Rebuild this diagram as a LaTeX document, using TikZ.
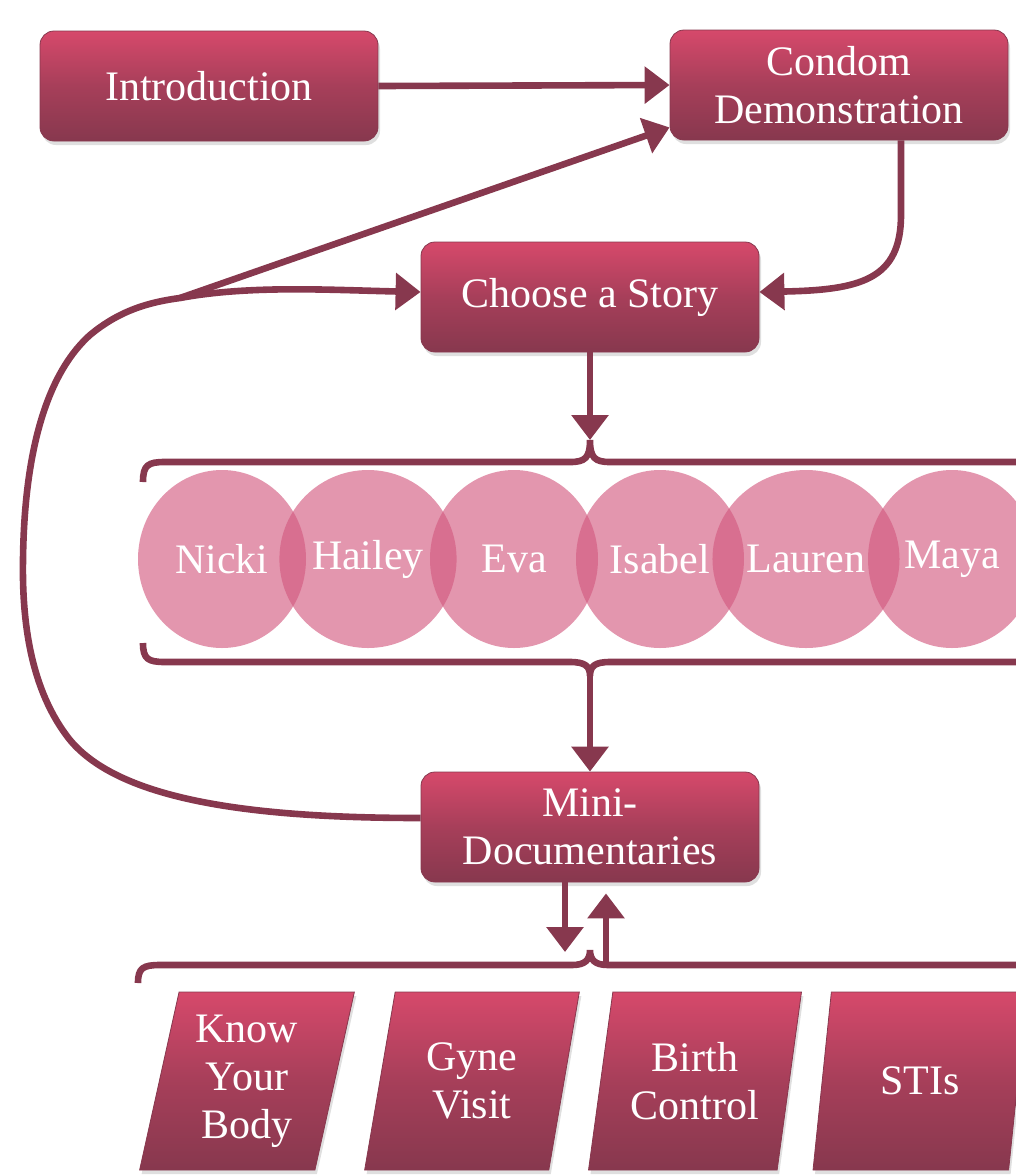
\documentclass[tikz,border=0pt]{standalone}
\usepackage{fontspec}
\setmainfont{Liberation Serif}
\usetikzlibrary{arrows.meta,calc,shapes.geometric,shadows}

\definecolor{wine}{RGB}{135,56,78}
\definecolor{rose}{RGB}{214,73,107}
\definecolor{blush}{RGB}{210,88,126}

\tikzset{
	box/.style={rectangle, rounded corners=7pt, minimum width=169pt, minimum height=55pt,
		top color=rose, bottom color=wine, middle color=wine!60!rose, draw=wine, thin,
		text=white, align=center, font=\fontsize{21}{24}\selectfont,
		drop shadow={opacity=0.25, shadow xshift=1pt, shadow yshift=-2pt}},
	girl/.style={ellipse, minimum width=84pt, minimum height=89pt, fill=blush, fill opacity=0.63,
		text opacity=1, text=white, font=\fontsize{21}{24}\selectfont},
	topic/.style={trapezium, trapezium left angle=77, trapezium right angle=103,
		trapezium stretches=true, minimum width=107.5pt, minimum height=89pt,
		top color=rose, bottom color=wine, middle color=wine!60!rose, draw=wine, thin,
		text=white, align=center, font=\fontsize{21}{24}\selectfont,
		drop shadow={opacity=0.25, shadow xshift=1pt, shadow yshift=-2pt}},
	link/.style={draw=wine, line width=3.3pt},
	tip/.style={-{Triangle[length=12.5pt,width=18pt]}}
}

\begin{document}
\begin{tikzpicture}[x=0.5pt, y=-0.5pt]
	\useasboundingbox (0,0) rectangle (1016,1175);
	\clip (0,0) rectangle (1016,1175);

	\node[box] (intro) at (209,86) {Introduction};
	\node[box] (condom) at (839,85) {Condom\\Demonstration};
	\node[box] (choose) at (590,297) {Choose a Story};
	\node[box] (mini) at (590,827) {Mini-\\Documentaries};

	% the six stories
	\foreach \who [count=\i from 0] in {Nicki,Hailey,Eva,Isabel,Lauren,Maya}
		\node[girl] (girl\i) at (222+146*\i,559) {\who};

	\node[topic] (body) at (247,1081) {Know\\Your\\Body};
	\node[topic] (gyne) at (472,1081) {Gyne\\Visit};
	\node[topic] (birth) at (695,1081) {Birth\\Control};
	\node[topic] (stis) at (920,1081) {STIs};

	\coordinate (fork) at (180,298);
	\coordinate (topcusp) at (590,440);
	\coordinate (midcusp) at (590,676);
	\coordinate (doccusp) at (590,950);
	\coordinate (downtip) at (565,952);
	\coordinate (uptail) at (606,965);

	% braces
	\draw[link] (143,482) .. controls (143,465) and (148,462) .. (165,462) -- (570,462)
		.. controls (585,462) and (590,458) .. (topcusp)
		.. controls (590,458) and (595,462) .. (610,462) -- (1030,462);
	\draw[link] (143,643) .. controls (143,659) and (148,662) .. (165,662) -- (570,662)
		.. controls (585,662) and (590,666) .. (midcusp)
		.. controls (590,666) and (595,662) .. (610,662) -- (1030,662);
	\draw[link] (138,983) .. controls (138,968) and (143,965) .. (160,965) -- (572,965)
		.. controls (585,965) and (590,960) .. (doccusp)
		.. controls (590,960) and (595,965) .. (608,965) -- (1030,965);

	% arrows
	\draw[link,tip] (intro.east) -- (condom.west);
	\draw[link,tip] ($(condom.south)+(62,0)$) -- (901,215)
		.. controls (901,280) and (860,290) .. ($(choose.east)+(0,-5)$);
	\draw[link,tip] (choose) -- (topcusp);
	\draw[link,tip] (midcusp) -- (mini);
	\draw[link,tip] ($(mini.south)+(-25,0)$) -- (downtip);
	\draw[link,tip] (uptail) -- ($(mini.south)+(16,11)$);
	\draw[link,tip] ($(mini.west)+(0,-9)$) .. controls (250,818) and (120,800) .. (70,740)
		.. controls (30,690) and (22,620) .. (23,560)
		.. controls (24,470) and (40,380) .. (90,335)
		.. controls (120,310) and (150,302) .. (fork)
		.. controls (250,285) and (330,290) .. ($(choose.west)+(0,-5)$);
	\draw[link,tip] (fork) -- ($(condom.south west)+(0,-13)$);
\end{tikzpicture}
\end{document}
